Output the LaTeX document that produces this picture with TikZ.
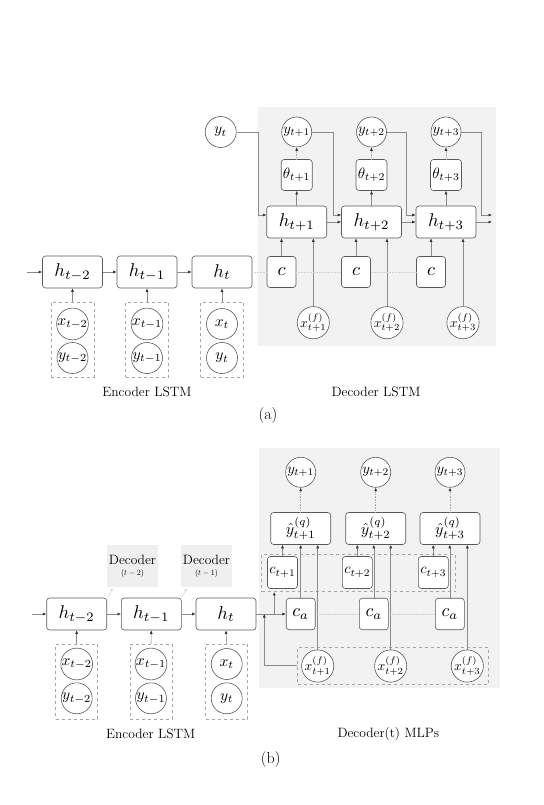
\documentclass[tikz,border=0pt]{standalone}
\usepackage{graphicx}
\usetikzlibrary{arrows.meta,calc}
\definecolor{bc}{HTML}{595959}
\definecolor{lc}{HTML}{8A8A8A}
\definecolor{ac}{HTML}{333333}
\definecolor{dc}{HTML}{A6A6A6}
\definecolor{fc}{HTML}{D2D2D2}
\definecolor{dl}{HTML}{ABABAB}
\definecolor{bg}{HTML}{F2F2F2}
\definecolor{lg}{HTML}{EFEFEF}
\newcommand{\mth}[2]{\scalebox{#1}{$#2$}}
\begin{document}
\begin{tikzpicture}[x=1pt,y=-1pt,
 box/.style={draw=bc,line width=0.6pt,rounded corners=3pt,fill=white,inner sep=0pt,align=center},
 hbox/.style={box,minimum width=60pt,minimum height=32pt},
 sbox/.style={box,minimum width=30pt,minimum height=32pt},
 tbox/.style={box,minimum width=31pt,minimum height=31pt},
 circ/.style={circle,draw=bc,line width=0.6pt,fill=white,inner sep=0pt,minimum size=31pt},
 dbox/.style={draw=dc,dashed,line width=0.5pt,inner sep=0pt},
 conn/.style={draw=lc,line width=0.6pt,-{Latex[length=3.5pt,width=3pt,color=ac]}},
 dconn/.style={conn,draw=dl,densely dotted},
 faint/.style={draw=fc,line width=0.5pt,densely dotted},
 lbl/.style={font=\fontsize{13.5}{15}\selectfont},
 sub/.style={font=\fontsize{16}{18}\selectfont}]
\useasboundingbox (0,0) rectangle (543,805);
% ================= (a) =================
\fill[bg] (258,107) rectangle (496,346);
% encoder
\foreach \i/\x/\s in {1/72.5/t-2,2/147/t-1,3/222/t}{
  \node[hbox] (hA\i) at (\x,272) {\mth{1.85}{h_{\s}}};
  \node[dbox,minimum width=43pt,minimum height=75pt] (dA\i) at (\x,339.5) {};
  \node[circ] (xA\i) at (\x,324) {\mth{1.55}{x_{\s}}};
  \node[circ] (yA\i) at (\x,358) {\mth{1.55}{y_{\s}}};
  \draw[conn] (dA\i.north) -- (hA\i.south);
}
\coordinate (inA) at (27,272);
\draw[conn] (inA) -- (hA1.west);
\draw[conn] (hA1.east) -- (hA2.west);
\draw[conn] (hA2.east) -- (hA3.west);
\node[lbl] (encA) at (147,392) {Encoder LSTM};
% decoder
\node[circ] (yt) at (220.7,132) {\mth{1.5}{y_t}};
\foreach \i/\x/\hx/\fx/\s in {1/281.5/296.7/313.3/t+1,2/356/371.5/387/t+2,3/431/446/463/t+3}{
  \node[sbox,minimum width=29pt,minimum height=31pt] (cA\i) at (\x,272) {\mth{1.85}{c}};
  \node[hbox] (hB\i) at (\hx,222) {\mth{1.85}{h_{\s}}};
  \node[tbox] (th\i) at (\hx,175) {\mth{1.5}{\theta_{\s}}};
  \node[circ,minimum size=30pt] (yB\i) at (\hx,132) {\mth{1.45}{y_{\s}}};
  \node[circ,minimum size=30pt] (xf\i) at (\fx,322.7) {\mth{1.35}{x^{(f)}_{\s}}};
  \draw[conn] (cA\i.north) -- (cA\i.north |- hB\i.south);
  \draw[conn] (xf\i.north) -- (xf\i.north |- hB\i.south);
  \draw[conn] (hB\i.north) -- (th\i.south);
  \draw[dconn] (th\i.north) -- (yB\i.south);
}
\draw[faint] (hA3.east) -- (cA1.west);
\draw[faint] (cA1.east) -- (cA2.west);
\draw[faint] (cA2.east) -- (cA3.west);
\draw[conn] (hB1.east) -- (hB2.west);
\draw[conn] (hB2.east) -- (hB3.west);
\coordinate (outA1) at (492,222);
\coordinate (outA2) at (492,215);
\draw[conn] (hB3.east) -- (outA1);
\draw[conn] (yt.east) -| (258,215) -- ($(hB1.west)+(0,-7)$);
\draw[conn] (yB1.east) -| (333,215) -- ($(hB2.west)+(0,-7)$);
\draw[conn] (yB2.east) -| (406.5,215) -- ($(hB3.west)+(0,-7)$);
\draw[conn] (yB3.east) -| (481.7,215) -- (outA2);
\node[lbl] (decA) at (376,392) {Decoder LSTM};
\node[sub] (labA) at (268,416) {(a)};
% ================= (b) =================
\fill[bg] (259,448) rectangle (500,688);
\foreach \i/\x/\dx/\s in {1/76.7/76.7/t-2,2/151.3/151/t-1,3/226/226.7/t}{
  \node[hbox] (hC\i) at (\x,614) {\mth{1.85}{h_{\s}}};
  \node[dbox,minimum width=42pt,minimum height=75pt] (dC\i) at (\dx,681.7) {};
  \node[circ] (xC\i) at (\dx,664) {\mth{1.55}{x_{\s}}};
  \node[circ] (yC\i) at (\dx,698.3) {\mth{1.55}{y_{\s}}};
  \draw[conn] (dC\i.north) -- (hC\i.south);
}
\coordinate (inC) at (31.5,614);
\draw[conn] (inC) -- (hC1.west);
\draw[conn] (hC1.east) -- (hC2.west);
\draw[conn] (hC2.east) -- (hC3.west);
\node[fill=lg,minimum width=51pt,minimum height=42pt,inner sep=0pt,align=center] (dec1) at (132.5,566)
  {\fontsize{13.5}{13}\selectfont Decoder\\[-1pt]\mth{0.8}{(t-2)}};
\node[fill=lg,minimum width=51pt,minimum height=42pt,inner sep=0pt,align=center] (dec2) at (206.5,566)
  {\fontsize{13.5}{13}\selectfont Decoder\\[-1pt]\mth{0.8}{(t-1)}};
\draw[draw=fc,line width=0.5pt,-{Latex[length=3pt,width=2.5pt,color=fc]}] (hC1.north east) -- ($(dec1.south west)+(6,1)$);
\draw[draw=fc,line width=0.5pt,-{Latex[length=3pt,width=2.5pt,color=fc]}] (hC2.north east) -- ($(dec2.south west)+(6,1)$);
% decoder MLPs
\node[dbox,minimum width=194pt,minimum height=37.4pt] (cdash) at (358.7,573) {};
\node[dbox,minimum width=190.6pt,minimum height=36.7pt] (xdash) at (393,665.7) {};
\foreach \i/\ax/\cx/\yx/\fx/\s in {1/300.7/282.5/300.7/317.7/t+1,2/373.8/357.3/375.7/390.7/t+2,3/449.8/433.3/450/467.3/t+3}{
  \node[sbox,minimum width=29pt,minimum height=31.5pt] (ca\i) at (\ax,614) {\mth{1.8}{c_a}};
  \node[sbox] (cc\i) at (\cx,572.5) {\mth{1.45}{c_{\s}}};
  \node[hbox] (yh\i) at (\yx,528.5) {\mth{1.6}{\hat{y}^{(q)}_{\s}}};
  \node[circ,minimum size=30pt] (yc\i) at (\yx,472.3) {\mth{1.45}{y_{\s}}};
  \node[circ,minimum size=30pt] (xg\i) at (\fx,666) {\mth{1.35}{x^{(f)}_{\s}}};
  \draw[conn] (cc\i.north) -- (cc\i.north |- yh\i.south);
  \draw[conn] (ca\i.north) -- (ca\i.north |- yh\i.south);
  \draw[conn] (xg\i.north) -- (xg\i.north |- yh\i.south);
  \draw[dconn] (yh\i.north) -- (yc\i.south);
}
\draw[faint] (ca1.east) -- (ca2.west);
\draw[faint] (ca2.east) -- (ca3.west);
\draw[conn] (hC3.east) -- (ca1.west);
\coordinate (br) at (274.3,614);
\draw[conn] (br) -- (br |- cdash.south);
\coordinate (jn) at (264.3,614);
\draw[conn] (xdash.west) -| (jn);
\node[lbl] (encB) at (150.7,734) {Encoder LSTM};
\node[lbl] (decB) at (388.3,734) {Decoder(t) MLPs};
\node[sub] (labB) at (270.7,759.3) {(b)};
\end{tikzpicture}
\end{document}
